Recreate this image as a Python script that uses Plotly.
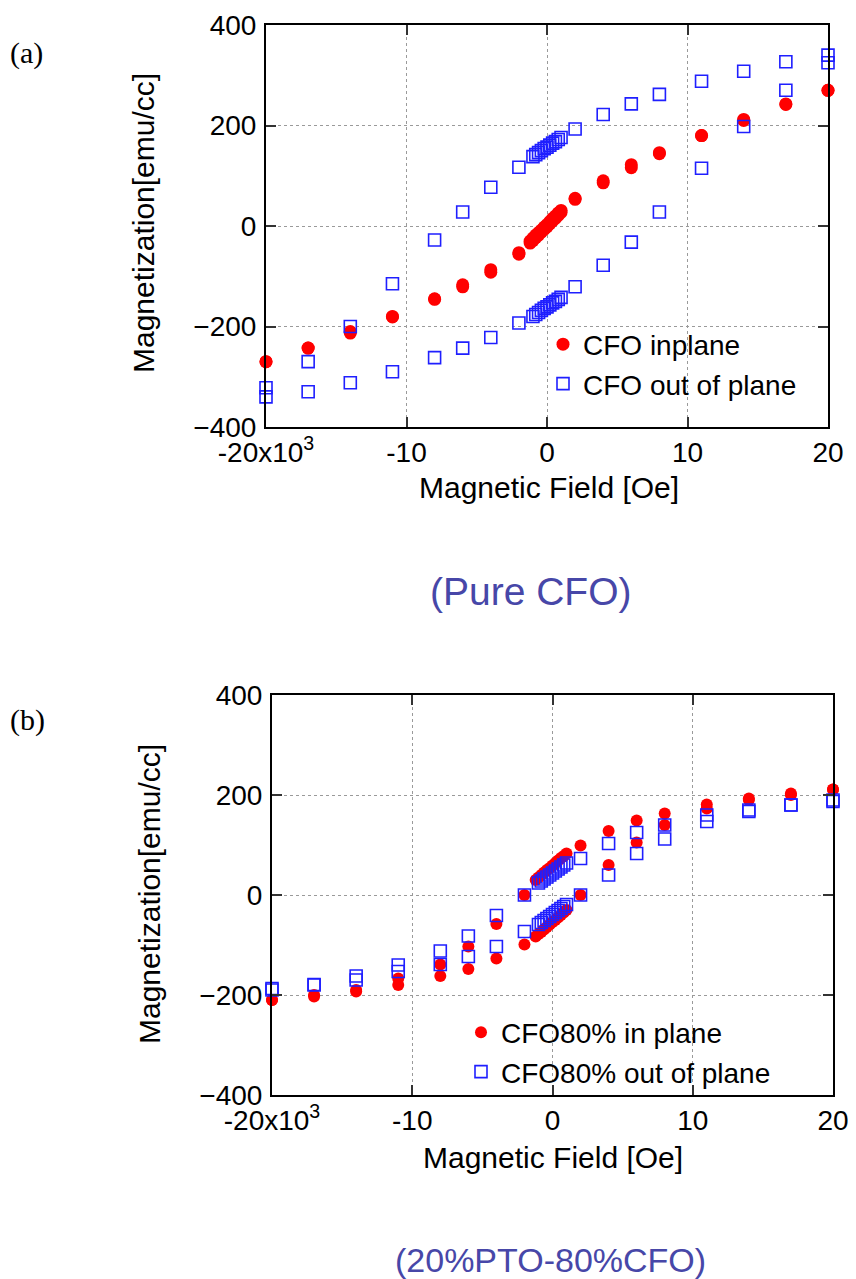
import plotly.graph_objects as go

# ---------------- data (field in kOe, magnetization in emu/cc) ----------------
# (a) Pure CFO, in-plane: descending branch then ascending branch
a_in_H = [20, 17, 14, 11, 8, 6, 4, 2, 1.0, 0.8, 0.6, 0.4, 0.2, 0, -0.2, -0.4, -0.6, -0.8, -1.0, -1.2, -2, -4, -6, -8, -11, -14, -17, -20,
          -20, -17, -14, -11, -8, -6, -4, -2, -1.2, -1.0, -0.8, -0.6, -0.4, -0.2, 0, 0.2, 0.4, 0.6, 0.8, 1.0, 2, 4, 6, 8, 11, 14, 17, 20]
a_in_M = [270, 242, 212, 180, 146, 122, 90, 55, 31, 26, 20, 15, 9, 3, -2, -8, -13, -18, -24, -30, -53, -87, -117, -145, -180, -210, -243, -270,
          -270, -243, -213, -181, -146, -121, -92, -56, -34, -29, -23, -18, -12, -7, -2, 4, 10, 15, 21, 27, 53, 86, 116, 144, 180, 210, 243, 270]

# (a) Pure CFO, out of plane
a_out_H = [20, 17, 14, 11, 8, 6, 4, 2, 1.0, 0.8, 0.6, 0.4, 0.2, 0, -0.2, -0.4, -0.6, -0.8, -1.0, -2, -4, -6, -8, -11, -14, -17, -20,
           -20, -17, -14, -11, -8, -6, -4, -2, -1.0, -0.8, -0.6, -0.4, -0.2, 0, 0.2, 0.4, 0.6, 0.8, 1.0, 2, 4, 6, 8, 11, 14, 17, 20]
a_out_M = [340, 327, 308, 288, 262, 243, 222, 193, 176, 172, 168, 165, 161, 157, 154, 150, 146, 142, 138, 117, 77, 28, -28, -115, -200, -270, -322,
           -340, -330, -312, -290, -262, -243, -222, -193, -180, -176, -172, -168, -164, -161, -157, -153, -150, -146, -142, -121, -78, -32, 28, 115, 198, 270, 325]

# (b) 20%PTO-80%CFO, in plane
b_in_H = [20, 17, 14, 11, 8, 6, 4, 2, 1.0, 0.8, 0.6, 0.4, 0.2, 0, -0.2, -0.4, -0.6, -0.8, -1.0, -1.2, -2, -4, -6, -8, -11, -14, -17, -20,
          -20, -17, -14, -11, -8, -6, -4, -2, -1.2, -1.0, -0.8, -0.6, -0.4, -0.2, 0, 0.2, 0.4, 0.6, 0.8, 1.0, 2, 4, 6, 8, 11, 14, 17, 20]
b_in_M = [211, 203, 193, 181, 163, 149, 128, 99, 83, 78, 74, 69, 64, 59, 54, 50, 45, 40, 35, 30, 0, -58, -103, -139, -167, -190, -200, -210,
          -210, -203, -193, -180, -162, -148, -127, -99, -83, -78, -74, -69, -64, -59, -54, -50, -45, -40, -35, -30, 0, 60, 105, 140, 173, 190, 200, 211]

# (b) 20%PTO-80%CFO, out of plane
b_out_H = [20, 17, 14, 11, 8, 6, 4, 2, 1.0, 0.8, 0.6, 0.4, 0.2, 0, -0.2, -0.4, -0.6, -0.8, -1.0, -2, -4, -6, -8, -11, -14, -17, -20,
           -20, -17, -14, -11, -8, -6, -4, -2, -1.0, -0.8, -0.6, -0.4, -0.2, 0, 0.2, 0.4, 0.6, 0.8, 1.0, 2, 4, 6, 8, 11, 14, 17, 20]
b_out_M = [190, 180, 170, 160, 140, 125, 103, 73, 64, 60, 56, 52, 48, 44, 40, 36, 32, 28, 24, 0, -41, -82, -112, -140, -162, -179, -187,
           -190, -180, -170, -153, -139, -123, -103, -73, -59, -55, -51, -47, -43, -39, -35, -31, -27, -23, -19, 0, 40, 83, 112, 147, 167, 180, 187]

x_tickvals = [-20, -10, 0, 10, 20]
x_ticktext = ["-20x10<sup>3</sup>", "-10", "0", "10", "20"]
y_tickvals = [-400, -200, 0, 200, 400]

# page body has an 8 px margin, so the figure is drawn from (8, 8)
OFF = 8
W, H = 856 - OFF, 1279 - OFF
FONT = "Liberation Sans, Arial, Helvetica, sans-serif"
RED = "#ff0000"
BLUE = "#1f1fff"
TITLE_COLOR = "#4747a8"

fig = go.Figure()

fig.add_trace(go.Scatter(x=a_in_H, y=a_in_M, mode="markers", name="CFO inplane",
                         marker=dict(symbol="circle", size=13, color=RED),
                         cliponaxis=False, xaxis="x", yaxis="y", legend="legend"))
fig.add_trace(go.Scatter(x=a_out_H, y=a_out_M, mode="markers", name="CFO out of plane",
                         marker=dict(symbol="square-open", size=12, color=BLUE, line=dict(width=1.6, color=BLUE)),
                         cliponaxis=False, xaxis="x", yaxis="y", legend="legend"))
fig.add_trace(go.Scatter(x=b_in_H, y=b_in_M, mode="markers", name="CFO80% in plane",
                         marker=dict(symbol="circle", size=12, color=RED),
                         cliponaxis=False, xaxis="x2", yaxis="y2", legend="legend2"))
fig.add_trace(go.Scatter(x=b_out_H, y=b_out_M, mode="markers", name="CFO80% out of plane",
                         marker=dict(symbol="square-open", size=12, color=BLUE, line=dict(width=1.6, color=BLUE)),
                         cliponaxis=False, xaxis="x2", yaxis="y2", legend="legend2"))


def px_x(p):
    return (p - OFF) / W


def px_y(p):
    return 1 - (p - OFF) / H


axis_common = dict(showline=True, linecolor="black", linewidth=2, mirror="ticks",
                   ticks="inside", ticklen=10, tickwidth=2, tickcolor="#333333",
                   showgrid=True, gridcolor="#9a9a9a", gridwidth=1, griddash="dot",
                   zeroline=False, automargin=False,
                   tickfont=dict(family=FONT, size=28, color="black"))

fig.update_layout(
    template="none",
    width=W, height=H, paper_bgcolor="white", plot_bgcolor="white",
    margin=dict(l=0, r=0, t=0, b=0, pad=0, autoexpand=False), showlegend=True,
    xaxis=dict(domain=[px_x(266), px_x(828)], range=[-20, 20], anchor="y",
               tickvals=x_tickvals, ticktext=x_ticktext, ticklabelstandoff=-1, **axis_common),
    yaxis=dict(domain=[px_y(427), px_y(25)], range=[-400, 400], anchor="x",
               tickvals=y_tickvals, ticklabelstandoff=2, **axis_common),
    xaxis2=dict(domain=[px_x(272), px_x(833)], range=[-20, 20], anchor="y2",
                tickvals=x_tickvals, ticktext=x_ticktext, ticklabelstandoff=-1, **axis_common),
    yaxis2=dict(domain=[px_y(1095), px_y(695)], range=[-400, 400], anchor="x2",
                tickvals=y_tickvals, ticklabelstandoff=2, **axis_common),
    legend=dict(x=px_x(543), y=px_y(364), xanchor="left", yanchor="middle",
                bgcolor="rgba(0,0,0,0)", borderwidth=0,
                font=dict(family=FONT, size=28, color="black"), tracegroupgap=0),
    legend2=dict(x=px_x(461), y=px_y(1052), xanchor="left", yanchor="middle",
                 bgcolor="rgba(0,0,0,0)", borderwidth=0,
                 font=dict(family=FONT, size=28, color="black"), tracegroupgap=0),
)

annots = [
    dict(text="Magnetization[emu/cc]", x=px_x(143), y=px_y(223), textangle=-90, size=30, color="black"),
    dict(text="Magnetic Field [Oe]", x=px_x(549), y=px_y(487), textangle=0, size=30, color="black"),
    dict(text="(Pure CFO)", x=px_x(531), y=px_y(591), textangle=0, size=39, color=TITLE_COLOR),
    dict(text="Magnetization[emu/cc]", x=px_x(149), y=px_y(894), textangle=-90, size=30, color="black"),
    dict(text="Magnetic Field [Oe]", x=px_x(553), y=px_y(1157), textangle=0, size=30, color="black"),
    dict(text="(20%PTO-80%CFO)", x=px_x(550), y=px_y(1260), textangle=0, size=34, color=TITLE_COLOR),
]
for a in annots:
    fig.add_annotation(text=a["text"], x=a["x"], y=a["y"], xref="paper", yref="paper",
                       xanchor="center", yanchor="middle", showarrow=False, textangle=a["textangle"],
                       font=dict(family=FONT, size=a["size"], color=a["color"]))

for lab, yy in [("(a)", 53), ("(b)", 720)]:
    fig.add_annotation(text=lab, x=px_x(8), y=px_y(yy), xref="paper", yref="paper",
                       xanchor="left", yanchor="middle", showarrow=False,
                       font=dict(family="Liberation Serif, Times New Roman, serif", size=30, color="black"))

fig.write_html("out.html")
